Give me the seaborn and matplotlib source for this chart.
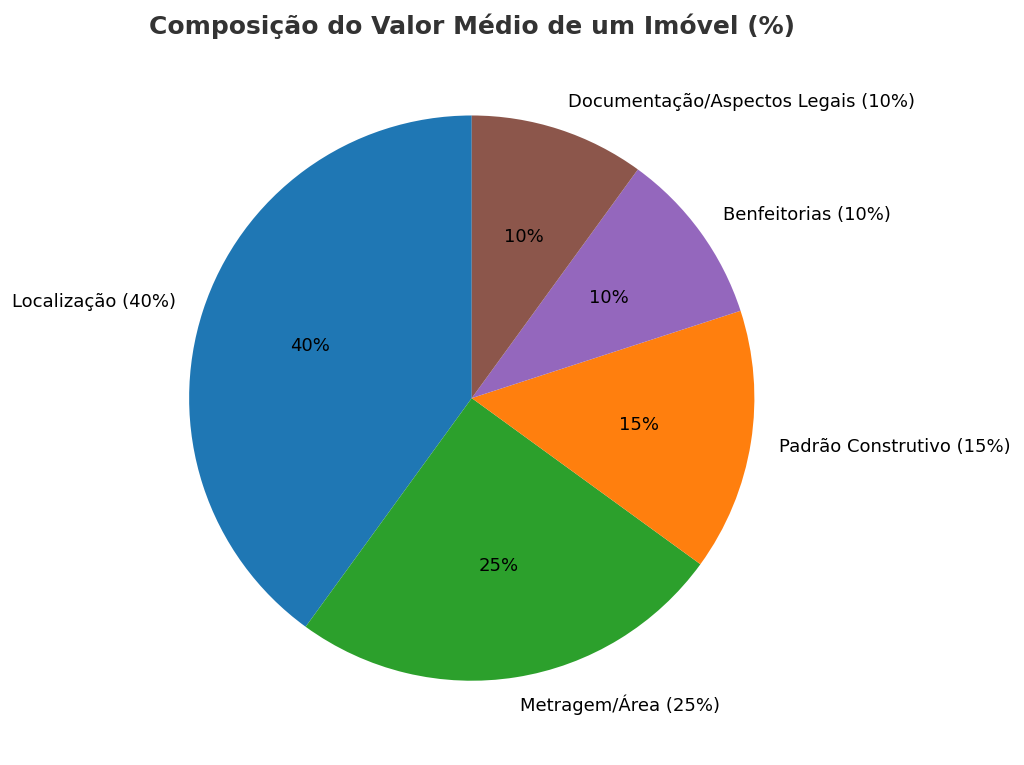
import matplotlib
matplotlib.use("Agg")
import matplotlib.pyplot as plt
import seaborn as sns

categorias = ["Localização", "Metragem/Área", "Padrão Construtivo",
              "Benfeitorias", "Documentação/Aspectos Legais"]
valores = [40, 25, 15, 10, 10]

sns.set_theme(style="white")
plt.rcParams["font.family"] = ["DejaVu Sans"]

tab = sns.color_palette("tab10")
cores = [tab[0], tab[2], tab[1], tab[4], tab[5]]
rotulos = [f"{c} ({v}%)" for c, v in zip(categorias, valores)]

fig = plt.figure(figsize=(10.24, 7.65), dpi=100)
ax = fig.add_axes([0.1157, 0.0176, 0.690, 0.924])
ax.pie(valores, labels=rotulos, colors=cores, autopct="%1.0f%%",
       startangle=90, wedgeprops={"linewidth": 0, "edgecolor": "none"},
       textprops={"fontsize": 13, "color": "black"})
ax.set_aspect("equal")
ax.set_title("Composição do Valor Médio de um Imóvel (%)", fontsize=18,
             fontweight="bold", color="#333333", pad=8)

fig.savefig("out.png", dpi=100)
